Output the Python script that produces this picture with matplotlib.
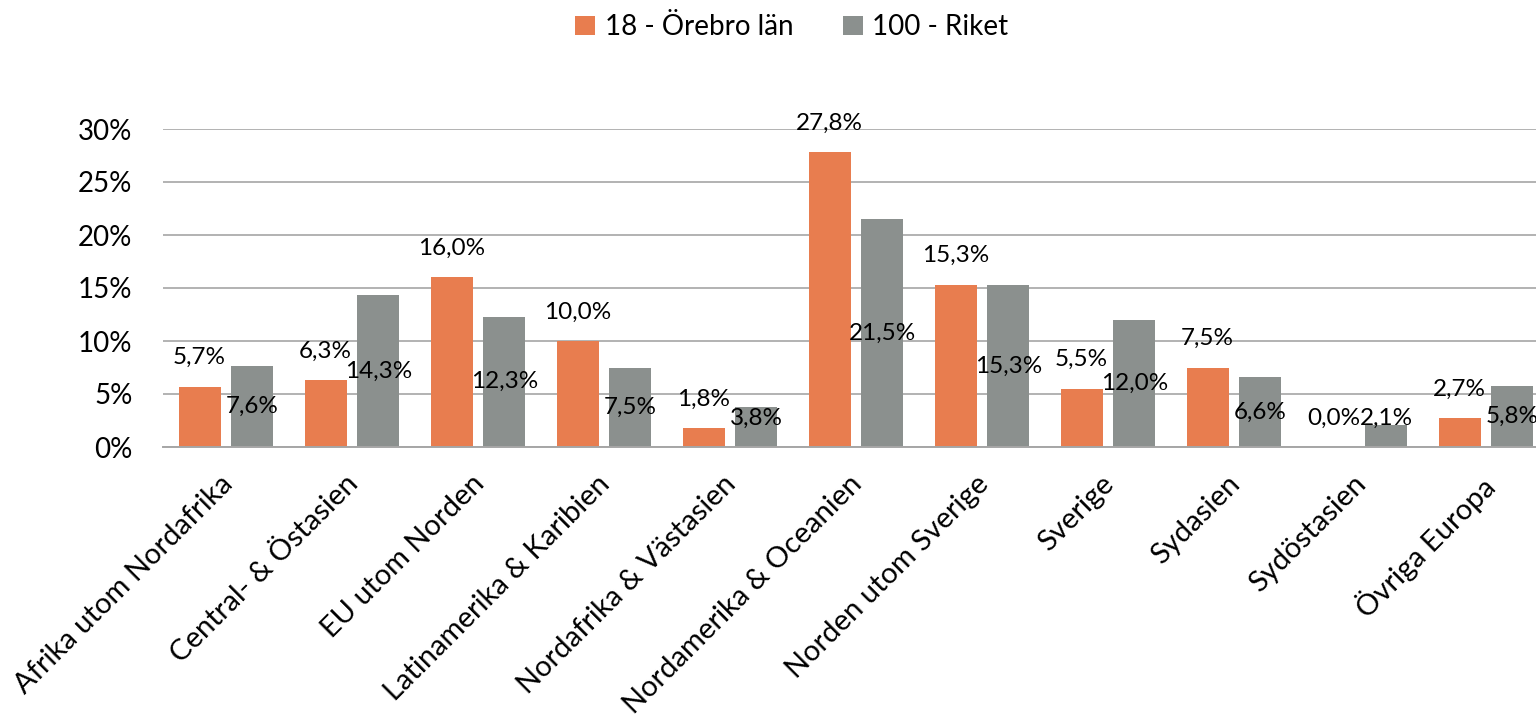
import matplotlib
matplotlib.use("Agg")
import matplotlib.pyplot as plt
import matplotlib.transforms as mtransforms
import numpy as np
from matplotlib.ticker import FuncFormatter

categories = [
    "Afrika utom Nordafrika",
    "Central- & Östasien",
    "EU utom Norden",
    "Latinamerika & Karibien",
    "Nordafrika & Västasien",
    "Nordamerika & Oceanien",
    "Norden utom Sverige",
    "Sverige",
    "Sydasien",
    "Sydöstasien",
    "Övriga Europa",
]
orebro = [5.7, 6.3, 16.0, 10.0, 1.8, 27.8, 15.3, 5.5, 7.5, 0.0, 2.7]
riket = [7.6, 14.3, 12.3, 7.5, 3.8, 21.5, 15.3, 12.0, 6.6, 2.1, 5.8]
series_names = ["18 - Örebro län", "100 - Riket"]
yticks = [0, 5, 10, 15, 20, 25, 30]

ORANGE = "#E87D4F"
GRAY = "#8B908E"
GRID = "#A6A6A6"
FONT = "Lato"

plt.rcParams["font.family"] = [FONT, "DejaVu Sans"]

fig = plt.figure(figsize=(15.36, 7.18), dpi=100)
ax = fig.add_axes([163 / 1536, 1 - 447 / 718, 1386 / 1536, 318 / 718])

x = np.arange(len(categories))
w = 0.333
off = 0.21

b1 = ax.bar(x - off, orebro, w, color=ORANGE, zorder=3, label=series_names[0])
b2 = ax.bar(x + off, riket, w, color=GRAY, zorder=3, label=series_names[1])

ax.set_xlim(-0.5, len(categories) - 0.5)
ax.set_ylim(0, 30)
ax.set_yticks(yticks)
ax.yaxis.set_major_formatter(FuncFormatter(lambda v, p: f"{v:.0f}%"))
ax.grid(axis="y", color=GRID, linewidth=1.2, zorder=0)
ax.set_axisbelow(True)
for s in ["top", "right", "left"]:
    ax.spines[s].set_visible(False)
ax.spines["bottom"].set_color(GRID)
ax.spines["bottom"].set_linewidth(1.4)
ax.spines["bottom"].set_zorder(4)
ax.tick_params(axis="y", length=0, pad=22, labelsize=20)
ax.tick_params(axis="x", length=0, pad=17, labelsize=21)
ax.set_xticks(x)
ax.set_xticklabels(categories, rotation=45, ha="right", va="top",
                   rotation_mode="anchor")
shift = mtransforms.ScaledTranslation(-7 / 100, 0, fig.dpi_scale_trans)
for lbl in ax.get_xticklabels():
    lbl.set_transform(lbl.get_transform() + shift)

def fmt(v):
    return f"{v:.1f}%".replace(".", ",")

# Orange values sit above their bars
for xi, v in zip(x - off, orebro):
    ax.annotate(fmt(v), (xi, v), xytext=(0, 29), textcoords="offset pixels",
                ha="center", va="center", fontsize=17.5, zorder=5)

# Gray values sit mid-bar, kept clear of the baseline
for xi, v in zip(x + off, riket):
    yc = max(v / 2, 2.74)
    ax.text(xi, yc, fmt(v), ha="center", va="center", fontsize=17.5, zorder=5)

fig.legend(handles=[b1, b2], labels=series_names, loc="center",
           bbox_to_anchor=(792 / 1536, 1 - 27 / 718), ncol=2, frameon=False,
           fontsize=20, handlelength=0.7, handleheight=0.7,
           handletextpad=0.35, columnspacing=1.8)

fig.savefig("out.png", dpi=100)
